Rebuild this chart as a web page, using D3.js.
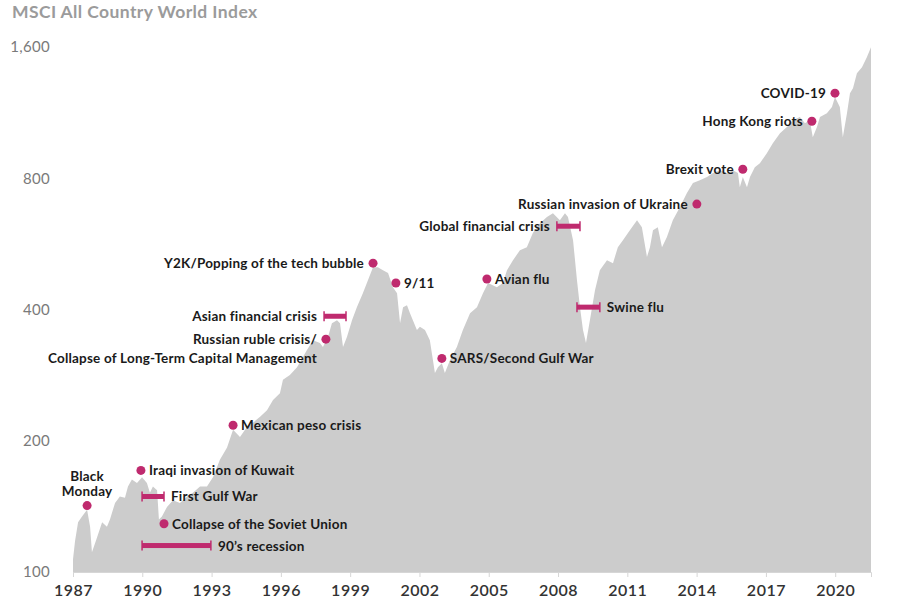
<!DOCTYPE html>
<html>
<head>
<meta charset="utf-8">
<script src="https://cdn.jsdelivr.net/npm/d3@7"></script>
<style>
  body { margin: 0; background: #fff; }
  svg { display: block; font-family: Lato, "Open Sans", sans-serif; }
</style>
</head>
<body>
<svg id="chart" width="900" height="607"></svg>
<script>
// index level (decimal year, value)
const dates = [
  1987.00, 1987.09, 1987.22, 1987.39, 1987.61, 1987.74, 1987.82, 1988.04, 1988.26, 1988.47,
  1988.60, 1988.82, 1989.03, 1989.25, 1989.38, 1989.55, 1989.77, 1989.99, 1990.20, 1990.33,
  1990.46, 1990.64, 1990.72, 1990.85, 1991.07, 1991.33, 1991.63, 1991.94, 1992.19, 1992.50,
  1992.80, 1993.06, 1993.36, 1993.67, 1993.93, 1994.23, 1994.53, 1994.79, 1995.10, 1995.40,
  1995.66, 1995.96, 1996.09, 1996.39, 1996.70, 1997.13, 1997.39, 1997.69, 1997.82, 1998.04,
  1998.21, 1998.43, 1998.56, 1998.69, 1998.86, 1999.08, 1999.29, 1999.55, 1999.77, 1999.99,
  2000.20, 2000.42, 2000.64, 2000.85, 2001.03, 2001.16, 2001.29, 2001.46, 2001.59, 2001.89,
  2002.02, 2002.24, 2002.45, 2002.67, 2002.80, 2002.97, 2003.10, 2003.32, 2003.62, 2003.88,
  2004.19, 2004.49, 2004.75, 2004.97, 2005.35, 2005.61, 2005.79, 2006.05, 2006.35, 2006.65,
  2006.91, 2007.22, 2007.52, 2007.78, 2008.08, 2008.30, 2008.43, 2008.65, 2008.82, 2008.95,
  2009.08, 2009.21, 2009.38, 2009.60, 2009.81, 2010.12, 2010.38, 2010.59, 2010.81, 2011.11,
  2011.42, 2011.63, 2011.85, 2011.98, 2012.11, 2012.32, 2012.50, 2012.71, 2012.97, 2013.28,
  2013.58, 2013.84, 2014.14, 2014.45, 2014.71, 2015.01, 2015.31, 2015.57, 2015.79, 2015.87,
  2016.00, 2016.18, 2016.31, 2016.52, 2016.74, 2017.04, 2017.30, 2017.61, 2017.91, 2018.17,
  2018.47, 2018.69, 2018.90, 2019.03, 2019.21, 2019.34, 2019.64, 2019.86, 2019.99, 2020.20,
  2020.33, 2020.51, 2020.64, 2020.77, 2020.94, 2021.16, 2021.37, 2021.55
];
const values = [
  107, 118, 130, 134, 139, 127, 111, 120, 130, 127,
  132, 144, 149, 148, 157, 163, 160, 165, 160, 152,
  157, 154, 132, 134, 141, 146, 144, 149, 152, 157,
  157, 165, 181, 193, 212, 204, 215, 220, 227, 235,
  248, 257, 276, 283, 295, 323, 340, 335, 328, 346,
  372, 378, 372, 328, 346, 378, 405, 436, 467, 500,
  500, 492, 485, 450, 436, 372, 405, 409, 392, 359,
  365, 359, 340, 286, 295, 301, 286, 306, 328, 359,
  392, 405, 436, 460, 450, 460, 492, 519, 547, 556,
  599, 631, 652, 665, 641, 665, 652, 577, 467, 405,
  359, 335, 378, 443, 492, 519, 511, 556, 577, 608,
  641, 618, 528, 556, 608, 618, 556, 586, 641, 687,
  740, 780, 792, 805, 822, 835, 822, 835, 822, 763,
  805, 763, 805, 848, 866, 913, 963, 1015, 1048, 1087,
  1105, 1070, 1087, 994, 1048, 1105, 1128, 1165, 1228, 1165,
  994, 1128, 1254, 1287, 1393, 1438, 1516, 1598
];

const xTicks = [1987, 1990, 1993, 1996, 1999, 2002, 2005, 2008, 2011, 2014, 2017, 2020];
const yTicks = [100, 200, 400, 800, 1600];

// single-date events
const pointEvents = [
  { label: ["Black", "Monday"], date: 1987.61, value: 142, side: "above" },
  { label: ["Iraqi invasion of Kuwait"], date: 1989.94, value: 171, side: "right" },
  { label: ["Collapse of the Soviet Union"], date: 1990.94, value: 129, side: "right" },
  { label: ["Mexican peso crisis"], date: 1993.93, value: 217, side: "right" },
  { label: ["Russian ruble crisis/", "Collapse of Long-Term Capital Management"], date: 1997.95, value: 342, side: "left" },
  { label: ["Y2K/Popping of the tech bubble"], date: 1999.99, value: 511, side: "left" },
  { label: ["9/11"], date: 2000.98, value: 460, side: "right" },
  { label: ["SARS/Second Gulf War"], date: 2002.97, value: 309, side: "right" },
  { label: ["Avian flu"], date: 2004.92, value: 470, side: "right" },
  { label: ["Russian invasion of Ukraine"], date: 2014.01, value: 698, side: "left" },
  { label: ["Brexit vote"], date: 2016.00, value: 839, side: "left" },
  { label: ["Hong Kong riots"], date: 2018.99, value: 1081, side: "left" },
  { label: ["COVID-19"], date: 2019.99, value: 1254, side: "left" }
];

// period events drawn as bars
const rangeEvents = [
  { label: "First Gulf War", start: 1989.99, end: 1990.94, value: 149, side: "right" },
  { label: "90\u2019s recession", start: 1989.99, end: 1992.97, value: 115, side: "right" },
  { label: "Asian financial crisis", start: 1997.87, end: 1998.82, value: 386, side: "left" },
  { label: "Global financial crisis", start: 2007.95, end: 2008.95, value: 621, side: "left" },
  { label: "Swine flu", start: 2008.82, end: 2009.81, value: 405, side: "right" }
];

const series = dates.map((d, i) => ({ date: d, value: values[i] }));

const svg = d3.select("#chart");
const accent = "#bf2a6e";
const labelColor = "#1a1a1a";

const x = d3.scaleLinear().domain([1987, 2021.55]).range([73, 871]);
const y = d3.scaleLog().domain([100, 1600]).range([572, 47]);

// title
svg.append("text")
    .attr("x", 12)
    .attr("y", 18)
    .attr("fill", "#9b9b9b")
    .style("font-size", "17.5px")
    .style("font-weight", "700")
    .style("letter-spacing", "0.4px")
    .text("MSCI All Country World Index");

// area
const area = d3.area()
    .x(d => x(d.date))
    .y0(y(100))
    .y1(d => y(d.value));

svg.append("path")
    .datum(series)
    .attr("d", area)
    .attr("fill", "#cccccc");

// x axis
const xAxis = svg.append("g")
    .attr("transform", `translate(0,${y(100)})`)
    .call(d3.axisBottom(x).tickValues(xTicks).tickFormat(d3.format("d")).tickSize(5).tickPadding(8));
xAxis.select(".domain").attr("stroke", "#d6d6d6");
xAxis.selectAll(".tick line").attr("stroke", "#d6d6d6");
xAxis.selectAll(".tick text")
    .attr("fill", "#333")
    .style("font-family", "Lato, sans-serif")
    .style("font-size", "16px")
    .style("font-weight", "600")
    .style("letter-spacing", "0.5px");

// y axis
const yAxis = svg.append("g")
    .attr("transform", "translate(58,0)")
    .call(d3.axisLeft(y).tickValues(yTicks).tickFormat(d3.format(",")).tickSize(0).tickPadding(8));
yAxis.select(".domain").remove();
yAxis.selectAll(".tick text")
    .attr("fill", "#7a7a7a")
    .style("font-family", "Lato, sans-serif")
    .style("font-size", "15px")
    .style("letter-spacing", "0.3px");

// annotations
const notes = svg.append("g")
    .style("font-size", "13.5px")
    .style("font-weight", "700")
    .style("letter-spacing", "0.2px")
    .attr("fill", labelColor);

pointEvents.forEach(ev => {
    const cx = x(ev.date), cy = y(ev.value);
    notes.append("circle")
        .attr("cx", cx)
        .attr("cy", cy)
        .attr("r", 4.5)
        .attr("fill", accent);

    const t = notes.append("text");
    if (ev.side === "above") {
        t.attr("text-anchor", "middle");
        ev.label.forEach((line, i) => {
            t.append("tspan")
                .attr("x", cx)
                .attr("y", cy - 29 + i * 15 + 4.5)
                .text(line);
        });
    } else {
        const tx = ev.side === "right" ? cx + 8 : cx - 9;
        t.attr("text-anchor", ev.side === "right" ? "start" : "end");
        ev.label.forEach((line, i) => {
            t.append("tspan")
                .attr("x", tx)
                .attr("y", cy + 5 + i * 19)
                .text(line);
        });
    }
});

rangeEvents.forEach(ev => {
    const x0 = x(ev.start), x1 = x(ev.end), cy = y(ev.value);
    notes.append("rect")
        .attr("x", x0)
        .attr("y", cy - 2.5)
        .attr("width", x1 - x0)
        .attr("height", 5)
        .attr("fill", accent);
    [x0, x1].forEach(px => {
        notes.append("line")
            .attr("x1", px).attr("x2", px)
            .attr("y1", cy - 5).attr("y2", cy + 5)
            .attr("stroke", accent)
            .attr("stroke-width", 1.5);
    });
    notes.append("text")
        .attr("x", ev.side === "right" ? x1 + 7 : x0 - 7)
        .attr("y", cy + 5)
        .attr("text-anchor", ev.side === "right" ? "start" : "end")
        .text(ev.label);
});
</script>
</body>
</html>
